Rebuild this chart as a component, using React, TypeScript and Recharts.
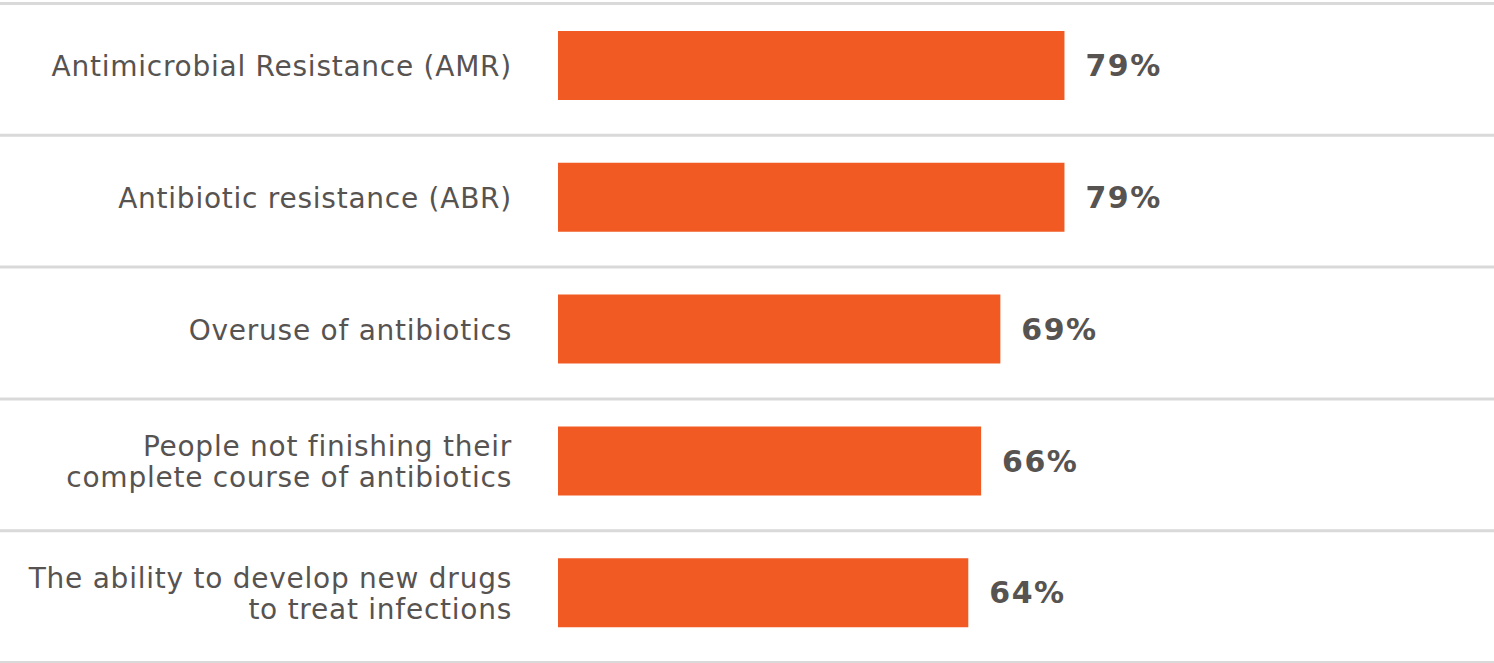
import { BarChart, Bar, XAxis, YAxis, LabelList } from 'recharts';

const categories = [
  'Antimicrobial Resistance (AMR)',
  'Antibiotic resistance (ABR)',
  'Overuse of antibiotics',
  'People not finishing their\ncomplete course of antibiotics',
  'The ability to develop new drugs\nto treat infections',
];

const values = [79, 79, 69, 66, 64];

const data = categories.map((name, i) => ({ name, value: values[i] }));

const WIDTH = 1494;
const HEIGHT = 663;
const MARGIN = { top: 0, right: 0, bottom: 4, left: 0 };
const ROW = (HEIGHT - MARGIN.top - MARGIN.bottom) / categories.length;
const LINE_SHIFT = 3.5; // separators sit a little below the bar bands
const TEXT = '#575351';
const GRID = '#d9d9d9';

function CategoryTick(props: any) {
  const { x, y, payload, index } = props;
  const lines = String(payload.value).split('\n');
  const lineH = 31;
  const startY = y - ((lines.length - 1) * lineH) / 2;
  const top = y - ROW / 2 + LINE_SHIFT;
  const bottom = y + ROW / 2 + LINE_SHIFT;
  return (
    <g>
      <line x1={0} x2={WIDTH} y1={top} y2={top} stroke={GRID} strokeWidth={3} />
      {index === categories.length - 1 && (
        <line x1={0} x2={WIDTH} y1={bottom} y2={bottom} stroke={GRID} strokeWidth={3} />
      )}
      <text x={x} y={startY} textAnchor="end" fill={TEXT} fontSize={28} letterSpacing={0.75} dominantBaseline="central">
        {lines.map((l, i) => (
          <tspan key={i} x={x} dy={i === 0 ? 0 : lineH}>
            {l}
          </tspan>
        ))}
      </text>
    </g>
  );
}

export default function App() {
  return (
    <div style={{ position: 'absolute', left: 0, top: 0, background: '#fff', fontFamily: '"DejaVu Sans", Verdana, sans-serif' }}>
      <BarChart width={WIDTH} height={HEIGHT} data={data} layout="vertical" margin={MARGIN}>
        <XAxis type="number" domain={[0, 146]} hide />
        <YAxis
          type="category"
          dataKey="name"
          width={558}
          axisLine={false}
          tickLine={false}
          tickSize={0}
          tickMargin={46}
          interval={0}
          tick={<CategoryTick />}
        />
        <Bar dataKey="value" fill="#f15a22" barSize={69} isAnimationActive={false}>
          <LabelList
            dataKey="value"
            position="right"
            offset={21}
            formatter={(v: any) => `${v}%`}
            fill={TEXT}
            style={{ fontSize: 30, fontWeight: 'bold', fill: TEXT, letterSpacing: 1.5 }}
          />
        </Bar>
      </BarChart>
    </div>
  );
}
